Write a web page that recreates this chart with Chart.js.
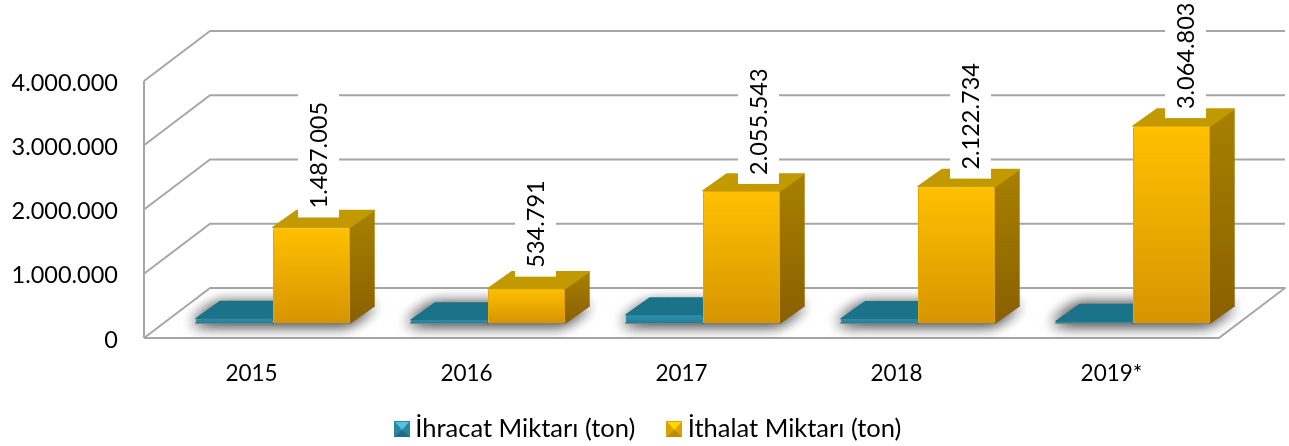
<!DOCTYPE html>
<html>
<head>
<meta charset="utf-8">
<style>
  html, body { margin: 0; padding: 0; background: #fff; }
  canvas { display: block; }
</style>
<script src="https://cdn.jsdelivr.net/npm/chart.js@4"></script>
</head>
<body>
<canvas id="my-chart" width="1289" height="446"></canvas>
<script>
const categories = ["2015", "2016", "2017", "2018", "2019*"];
const exportLabel = "İhracat Miktarı (ton)";
const importLabel = "İthalat Miktarı (ton)";
const exportValues = [70000, 45000, 125000, 65000, 25000];
const importValues = [1487005, 534791, 2055543, 2122734, 3064803];

// hand placed value labels in the original, offset from the bar front
const labelNudgeX = [7, 9, 17, 14, 14];
const labelNudgeY = [10, 12, 7, 8, 8];

const FONT = "Lato, Carlito, sans-serif";
const WALL = { dx: 66, dy: -50 };
const FLOOR = { dx: 21.5, dy: -15 };
const BAR = { dx: 24, dy: -17 };
const GRID_COLOR = "#a6a6a6";
const LEGEND_FONT_SIZE = 25.5;
const LEGEND_PADDING = 38.5;
const LEGEND_CENTER_Y = 429;

const palette = [
  { frontTop: "#2f90ad", frontBottom: "#1f7f9b", top: "#1b7389", side: "#15586b", sideLow: "#124d5f" },
  { frontTop: "#ffc000", frontBottom: "#d69500", top: "#c29a00", side: "#a88000", sideLow: "#8a6000" },
];

const formatNumber = (value) => String(value).replace(/\B(?=(\d{3})+(?!\d))/g, ".");

const frontFill = (colors) => (context) => {
  const { chart, raw } = context;
  if (!chart.chartArea || raw === undefined) return colors.frontTop;
  const y = chart.scales.y;
  const gradient = chart.ctx.createLinearGradient(0, y.getPixelForValue(raw), 0, y.getPixelForValue(0));
  gradient.addColorStop(0, colors.frontTop);
  gradient.addColorStop(1, colors.frontBottom);
  return gradient;
};

const makeMarker = (light, mid, dark) => {
  const canvas = document.createElement("canvas");
  canvas.width = 16;
  canvas.height = 16;
  const c = canvas.getContext("2d");
  c.fillStyle = mid;
  c.fillRect(0, 0, 16, 16);
  c.fillStyle = dark;
  c.beginPath();
  c.moveTo(0, 16);
  c.lineTo(8, 9);
  c.lineTo(16, 16);
  c.fill();
  c.fillStyle = light;
  c.beginPath();
  c.moveTo(1, 1);
  c.lineTo(15, 1);
  c.lineTo(8, 9);
  c.fill();
  return canvas;
};

const markers = [
  makeMarker("#4fc4e0", "#2a86a0", "#1c6f88"),
  makeMarker("#ffd900", "#d9a400", "#c08a00"),
];

const polygon = (ctx, points, fill) => {
  ctx.beginPath();
  points.forEach(([x, y], i) => (i ? ctx.lineTo(x, y) : ctx.moveTo(x, y)));
  ctx.closePath();
  ctx.fillStyle = fill;
  ctx.strokeStyle = fill;
  ctx.lineWidth = 1.5;
  ctx.lineJoin = "round";
  ctx.fill();
  ctx.stroke();
};

const drawWalls = (chart) => {
  const { ctx, chartArea } = chart;
  const { left, right, bottom } = chartArea;
  ctx.save();
  ctx.strokeStyle = GRID_COLOR;
  ctx.lineWidth = 2;
  ctx.lineJoin = "round";
  chart.scales.y.ticks.forEach((tick) => {
    const y = chart.scales.y.getPixelForValue(tick.value);
    ctx.beginPath();
    ctx.moveTo(left, y);
    ctx.lineTo(left + WALL.dx, y + WALL.dy);
    ctx.lineTo(right + WALL.dx, y + WALL.dy);
    if (tick.value === 0) {
      ctx.lineTo(right, y);
      ctx.lineTo(left, y);
    }
    ctx.stroke();
  });
  ctx.beginPath();
  ctx.moveTo(left, chartArea.top);
  ctx.lineTo(left, bottom);
  ctx.stroke();
  ctx.restore();
};

const drawShadows = (chart) => {
  const { ctx, chartArea } = chart;
  const { left, right, bottom } = chartArea;
  const teal = chart.getDatasetMeta(0).data;
  const orange = chart.getDatasetMeta(1).data;
  ctx.save();
  ctx.beginPath();
  ctx.moveTo(left, bottom);
  ctx.lineTo(left + WALL.dx, bottom + WALL.dy);
  ctx.lineTo(right + WALL.dx, bottom + WALL.dy);
  ctx.lineTo(right, bottom);
  ctx.closePath();
  ctx.clip();
  ctx.shadowColor = "rgba(0,0,0,0.6)";
  ctx.shadowBlur = 16;
  ctx.shadowOffsetX = -2;
  // two passes, one is too faint next to the reference
  [0, 1].forEach(() => {
    teal.forEach((bar, i) => {
      const x0 = bar.x - bar.width / 2 + FLOOR.dx;
      const x1 = orange[i].x + orange[i].width / 2 + FLOOR.dx;
      const y = bar.base + FLOOR.dy;
      polygon(ctx, [[x0, y], [x1, y], [x1 + BAR.dx, y + BAR.dy], [x0 + BAR.dx, y + BAR.dy]], "#888");
    });
  });
  ctx.restore();
};

const drawBarFaces = (chart) => {
  const { ctx } = chart;
  [0, 1].forEach((datasetIndex) => {
    const colors = palette[datasetIndex];
    chart.getDatasetMeta(datasetIndex).data.forEach((bar) => {
      const x0 = bar.x - bar.width / 2 + FLOOR.dx;
      const x1 = bar.x + bar.width / 2 + FLOOR.dx;
      const top = bar.y + FLOOR.dy;
      const base = bar.base + FLOOR.dy;
      const sideFill = ctx.createLinearGradient(0, top + BAR.dy, 0, base);
      sideFill.addColorStop(0, colors.side);
      sideFill.addColorStop(1, colors.sideLow);
      polygon(ctx, [[x1, top], [x1 + BAR.dx, top + BAR.dy], [x1 + BAR.dx, base + BAR.dy], [x1, base]], sideFill);
      polygon(ctx, [[x0, top], [x1, top], [x1 + BAR.dx, top + BAR.dy], [x0 + BAR.dx, top + BAR.dy]], colors.top);
    });
  });
};

const drawValueLabels = (chart) => {
  const { ctx } = chart;
  ctx.save();
  ctx.font = `23.5px ${FONT}`;
  ctx.textAlign = "left";
  ctx.textBaseline = "middle";
  chart.getDatasetMeta(1).data.forEach((bar, i) => {
    const text = formatNumber(importValues[i]);
    const width = ctx.measureText(text).width;
    const cx = bar.x + FLOOR.dx + labelNudgeX[i];
    const boxBottom = bar.y + FLOOR.dy - labelNudgeY[i];
    ctx.fillStyle = "#fff";
    ctx.fillRect(cx - 20.5, boxBottom - width - 20, 41, width + 20);
    ctx.translate(cx, boxBottom - 9);
    ctx.rotate(-Math.PI / 2);
    ctx.fillStyle = "#000";
    ctx.fillText(text, 0, 1);
    ctx.setTransform(1, 0, 0, 1, 0, 0);
  });
  ctx.restore();
};

const threeDeePlugin = {
  id: "threeDee",
  afterLayout: (chart) => {
    // legend sits under the whole 3d floor, not under the front edge
    const legend = chart.legend;
    legend.left += 42;
    legend.right += 42;
    legend.top = LEGEND_CENTER_Y - LEGEND_PADDING - LEGEND_FONT_SIZE / 2;
    legend.bottom = legend.top + legend.height;
    // x labels get clipped to the scale box otherwise
    chart.scales.x.bottom = chart.height;
  },
  beforeDatasetsDraw: (chart) => {
    drawWalls(chart);
    drawShadows(chart);
    drawBarFaces(chart);
    chart.ctx.save();
    chart.ctx.translate(FLOOR.dx, FLOOR.dy);
  },
  afterDatasetsDraw: (chart) => {
    chart.ctx.restore();
    drawValueLabels(chart);
  },
};

new Chart(document.getElementById("my-chart"), {
  type: "bar",
  data: {
    labels: categories,
    datasets: [
      {
        label: exportLabel,
        data: exportValues,
        backgroundColor: frontFill(palette[0]),
        borderColor: "#2a8aa6",
        borderWidth: 1,
        borderRadius: 2,
        categoryPercentage: 0.716,
        barPercentage: 1,
      },
      {
        label: importLabel,
        data: importValues,
        backgroundColor: frontFill(palette[1]),
        borderColor: "#e5a800",
        borderWidth: 1,
        borderRadius: 2,
        categoryPercentage: 0.716,
        barPercentage: 1,
      },
    ],
  },
  options: {
    responsive: false,
    animation: false,
    layout: { padding: { top: 81, right: 70 } },
    plugins: {
      tooltip: { enabled: false },
      legend: {
        position: "bottom",
        labels: {
          usePointStyle: true,
          boxWidth: 1,
          padding: LEGEND_PADDING,
          color: "#000",
          font: { family: FONT, size: LEGEND_FONT_SIZE },
          generateLabels: (chart) => {
            const items = Chart.defaults.plugins.legend.labels.generateLabels(chart);
            items.forEach((item) => {
              item.pointStyle = markers[item.datasetIndex];
            });
            return items;
          },
        },
      },
    },
    scales: {
      x: {
        grid: { display: false, drawTicks: false },
        border: { display: false },
        ticks: { color: "#000", padding: 22, maxRotation: 0, font: { family: FONT, size: 22.5 } },
        afterFit: (scale) => {
          scale.height = 108 - scale.chart.legend.height;
        },
      },
      y: {
        min: 0,
        max: 4000000,
        grid: { display: false, drawTicks: false },
        border: { display: false },
        ticks: {
          stepSize: 1000000,
          color: "#000",
          padding: 26,
          labelOffset: 2,
          font: { family: FONT, size: 23.5 },
          callback: (value) => formatNumber(value),
        },
        afterFit: (scale) => {
          scale.width = 144;
        },
      },
    },
  },
  plugins: [threeDeePlugin],
});
</script>
</body>
</html>
